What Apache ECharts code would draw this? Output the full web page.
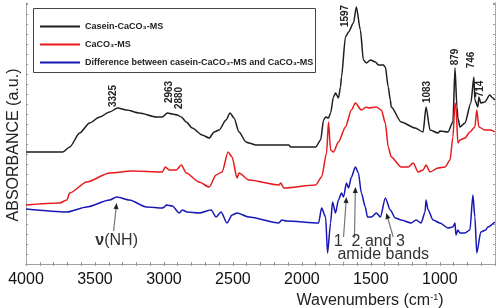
<!DOCTYPE html>
<html>
<head>
<meta charset="utf-8">
<script src="https://cdn.jsdelivr.net/npm/echarts@6/dist/echarts.min.js"></script>
<style>
  html, body { margin: 0; padding: 0; background: #fff; }
  #chart { width: 498px; height: 308px; }
</style>
</head>
<body>
<div id="chart"></div>
<script>
// 光谱数据 (wavenumber cm-1 / absorbance a.u.)
var caseinWn = [4000, 3733, 3683, 3611, 3539, 3466, 3394, 3336, 3271, 3178, 3055, 3012, 2975, 2939, 2903, 2874, 2838, 2795, 2723, 2672, 2636, 2600, 2550, 2521, 2492, 2456, 2405, 2384, 2333, 2167, 2095, 2081, 1973, 1900, 1864, 1843, 1828, 1807, 1792, 1771, 1756, 1735, 1720, 1713, 1684, 1662, 1626, 1605, 1576, 1554, 1532, 1503, 1467, 1446, 1410, 1395, 1374, 1359, 1352, 1280, 1179, 1121, 1100, 1071, 1013, 999, 941, 905, 890, 876, 869, 854, 818, 775, 753, 746, 724, 717, 703, 674, 638, 616, 602];
var caseinAbs = [1.12, 1.12, 1.17, 1.31, 1.41, 1.47, 1.52, 1.56, 1.54, 1.51, 1.47, 1.47, 1.51, 1.50, 1.49, 1.47, 1.42, 1.36, 1.29, 1.26, 1.32, 1.34, 1.44, 1.51, 1.46, 1.32, 1.22, 1.21, 1.19, 1.19, 1.19, 1.17, 1.17, 1.17, 1.24, 1.44, 1.47, 1.46, 1.51, 1.67, 1.71, 1.66, 1.77, 1.87, 2.27, 2.32, 2.41, 2.57, 2.34, 2.04, 2.01, 2.04, 2.02, 1.99, 1.99, 1.97, 1.77, 1.64, 1.57, 1.42, 1.36, 1.32, 1.57, 1.34, 1.31, 1.33, 1.32, 1.42, 1.96, 1.57, 1.46, 1.37, 1.41, 1.61, 1.87, 1.64, 1.57, 1.67, 1.61, 1.62, 1.69, 1.66, 1.64];

var caco3Wn = [4000, 3755, 3704, 3683, 3560, 3394, 3228, 3012, 2990, 2961, 2911, 2874, 2838, 2745, 2672, 2622, 2579, 2535, 2506, 2470, 2456, 2384, 2167, 2153, 2131, 1900, 1857, 1821, 1807, 1792, 1771, 1735, 1684, 1641, 1612, 1569, 1532, 1518, 1460, 1424, 1395, 1374, 1352, 1280, 1229, 1193, 1157, 1121, 1100, 1071, 1013, 962, 926, 905, 890, 883, 869, 854, 818, 782, 746, 732, 717, 674, 631, 602];
var caco3Abs = [0.59, 0.61, 0.64, 0.71, 0.82, 0.91, 0.93, 0.92, 0.97, 0.94, 0.94, 0.99, 0.91, 0.82, 0.77, 0.89, 0.92, 1.12, 1.07, 0.86, 0.91, 0.84, 0.79, 0.81, 0.76, 0.79, 0.87, 1.11, 1.42, 1.14, 1.12, 1.22, 1.37, 1.54, 1.61, 1.54, 1.57, 1.56, 1.57, 1.54, 1.41, 1.17, 1.07, 0.97, 0.97, 1.01, 0.92, 0.94, 0.99, 0.92, 0.96, 0.97, 1.04, 1.27, 1.61, 1.57, 1.21, 1.24, 1.26, 1.32, 1.37, 1.54, 1.37, 1.34, 1.34, 1.32];

var diffWn = [4000, 3704, 3560, 3394, 3343, 3250, 3127, 3012, 2997, 2983, 2939, 2889, 2867, 2831, 2745, 2658, 2622, 2586, 2543, 2506, 2470, 2384, 2167, 2146, 2110, 1879, 1857, 1828, 1814, 1792, 1778, 1756, 1735, 1713, 1698, 1677, 1662, 1641, 1612, 1590, 1569, 1540, 1525, 1496, 1460, 1431, 1395, 1359, 1323, 1280, 1208, 1172, 1136, 1107, 1100, 1085, 1049, 999, 941, 905, 890, 883, 869, 854, 818, 782, 760, 746, 732, 703, 667, 652, 602];
var diffAbs = [0.55, 0.52, 0.57, 0.64, 0.67, 0.64, 0.57, 0.56, 0.57, 0.59, 0.58, 0.51, 0.54, 0.52, 0.51, 0.54, 0.47, 0.52, 0.41, 0.49, 0.51, 0.47, 0.41, 0.44, 0.43, 0.41, 0.56, 0.47, 0.11, 0.41, 0.62, 0.51, 0.64, 0.71, 0.67, 0.81, 0.76, 0.87, 0.97, 0.91, 0.71, 0.57, 0.47, 0.47, 0.51, 0.47, 0.66, 0.54, 0.46, 0.44, 0.41, 0.44, 0.41, 0.52, 0.64, 0.54, 0.44, 0.41, 0.36, 0.37, 0.41, 0.29, 0.34, 0.31, 0.31, 0.34, 0.69, 0.47, 0.11, 0.32, 0.34, 0.37, 0.42];

var seriesNames = ['Casein-CaCO₃-MS', 'CaCO₃-MS', 'Difference between casein-CaCO₃-MS and CaCO₃-MS'];

// 峰标注 (文字, 位置)
var peakText = ['3325', '2963', '2880', '1597', '1083', '879', '746', '714'];
var peakWn = [3365, 2961, 2889, 1684, 1092, 890, 770, 710];
var peakAbs = [1.68, 1.72, 1.66, 2.48, 1.72, 2.07, 2.04, 1.75];

// 箭头 [tailWn, tailAbs, headWn, headAbs]
var arrowList = [
    [3365, 0.33, 3343, 0.61],
    [1698, 0.27, 1677, 0.67],
    [1619, 0.26, 1612, 0.77],
    [1338, 0.27, 1388, 0.51]
];

var FONT = '"Liberation Sans", Arial, sans-serif';

function pairs(xs, ys) {
    return xs.map(function (x, i) { return [x, ys[i]]; });
}

function lineSeries(name, data, color) {
    return {
        name: name,
        type: 'line',
        symbol: 'none',
        smooth: 0.25,
        smoothMonotone: 'x',
        xAxisIndex: 0,
        yAxisIndex: 0,
        lineStyle: { color: color, width: 1.5 },
        itemStyle: { color: color },
        data: data
    };
}

function borderAxis(extra) {
    var ax = {
        axisLine: { show: true, lineStyle: { color: '#999', type: 'dotted', width: 1 } },
        axisTick: { show: true, inside: true, length: 2, lineStyle: { color: '#999' } },
        splitLine: { show: false }
    };
    for (var k in extra) ax[k] = extra[k];
    return ax;
}

var myChart = echarts.init(document.getElementById('chart'));

var option = {
    animation: false,
    backgroundColor: '#fff',
    grid: { left: 26, right: 1, top: 3, bottom: 44 },
    legend: {
        orient: 'vertical',
        left: 40,
        top: 22,
        padding: 0,
        icon: 'rect',
        itemWidth: 40,
        itemHeight: 2,
        itemGap: 9,
        data: seriesNames,
        textStyle: { fontFamily: FONT, fontWeight: 'bold', fontSize: 9, color: '#222' }
    },
    xAxis: [
        borderAxis({
            type: 'value', position: 'bottom', inverse: true,
            min: 600, max: 4000, interval: 100,
            axisLabel: {
                color: '#111', fontFamily: FONT, fontSize: 16, margin: 8,
                formatter: function (v) { return v % 500 === 0 ? String(v) : ''; }
            }
        }),
        borderAxis({
            type: 'value', position: 'top', inverse: true,
            min: 600, max: 4000, interval: 100,
            axisLabel: { show: false }
        })
    ],
    yAxis: [
        borderAxis({ type: 'value', position: 'left', min: 0, max: 2.61, interval: 0.1, axisLabel: { show: false } }),
        borderAxis({ type: 'value', position: 'right', min: 0, max: 2.61, interval: 0.1, axisLabel: { show: false } })
    ],
    series: [
        lineSeries(seriesNames[0], pairs(caseinWn, caseinAbs), '#1e1e1e'),
        lineSeries(seriesNames[1], pairs(caco3Wn, caco3Abs), '#e8191c'),
        lineSeries(seriesNames[2], pairs(diffWn, diffAbs), '#1717b5')
    ]
};

myChart.setOption(option);

function px(wn, ab) {
    return myChart.convertToPixel({ gridIndex: 0 }, [wn, ab]);
}

function arrow(a) {
    var t = px(a[0], a[1]), h = px(a[2], a[3]);
    var dx = h[0] - t[0], dy = h[1] - t[1];
    var len = Math.sqrt(dx * dx + dy * dy);
    var ux = dx / len, uy = dy / len;
    var bx = h[0] - ux * 6, by = h[1] - uy * 6;
    return [
        {
            type: 'line', z: 20,
            shape: { x1: t[0], y1: t[1], x2: bx, y2: by },
            style: { stroke: '#777', lineWidth: 1.2 }
        },
        {
            type: 'polygon', z: 20,
            shape: { points: [[h[0], h[1]], [bx - uy * 2.5, by + ux * 2.5], [bx + uy * 2.5, by - ux * 2.5]] },
            style: { fill: '#222' }
        }
    ];
}

var graList = [];
// 图例边框
graList.push({
    type: 'rect', z: 3,
    shape: { x: 33.5, y: 8.5, width: 282, height: 64 },
    style: { fill: '#fff', stroke: '#444', lineWidth: 1 }
});
// 峰值标签 竖排
peakText.forEach(function (t, i) {
    var p = px(peakWn[i], peakAbs[i]);
    graList.push({
        type: 'text', z: 20, x: p[0], y: p[1], rotation: Math.PI / 2,
        style: {
            text: t, fontFamily: FONT, fontWeight: 'bold', fontSize: 10,
            fill: '#222', textAlign: 'center', textVerticalAlign: 'middle'
        }
    });
});
arrowList.forEach(function (a) {
    arrow(a).forEach(function (g) { graList.push(g); });
});

var nh = px(3343, 0.23);
graList.push({
    type: 'text', z: 20, x: nh[0], y: nh[1],
    style: {
        text: '{b|ν}(NH)', fontFamily: FONT, fontSize: 16, fill: '#333',
        textAlign: 'center', textVerticalAlign: 'middle',
        rich: { b: { fontFamily: FONT, fontSize: 16, fontWeight: 'bold', fill: '#333' } }
    }
});
var am1 = px(1511, 0.22);
graList.push({
    type: 'text', z: 20, x: am1[0], y: am1[1],
    style: { text: '1  2 and 3', fontFamily: FONT, fontSize: 16, fill: '#333', textAlign: 'center', textVerticalAlign: 'middle' }
});
var am2 = px(1410, 0.09);
graList.push({
    type: 'text', z: 20, x: am2[0], y: am2[1],
    style: { text: 'amide bands', fontFamily: FONT, fontSize: 16, fill: '#333', textAlign: 'center', textVerticalAlign: 'middle' }
});
// 坐标轴标题
graList.push({
    type: 'text', z: 20, x: 370, y: 301,
    style: {
        text: 'Wavenumbers (cm{s|-1})', fontFamily: FONT, fontSize: 16, fill: '#222',
        textAlign: 'center', textVerticalAlign: 'middle',
        rich: { s: { fontFamily: FONT, fontSize: 9, verticalAlign: 'top', fill: '#222' } }
    }
});
graList.push({
    type: 'text', z: 20, x: 14, y: 145, rotation: Math.PI / 2,
    style: {
        text: 'ABSORBANCE (a.u.)', fontFamily: FONT, fontSize: 16, fill: '#222',
        textAlign: 'center', textVerticalAlign: 'middle'
    }
});

myChart.setOption({ graphic: graList });
</script>
</body>
</html>
